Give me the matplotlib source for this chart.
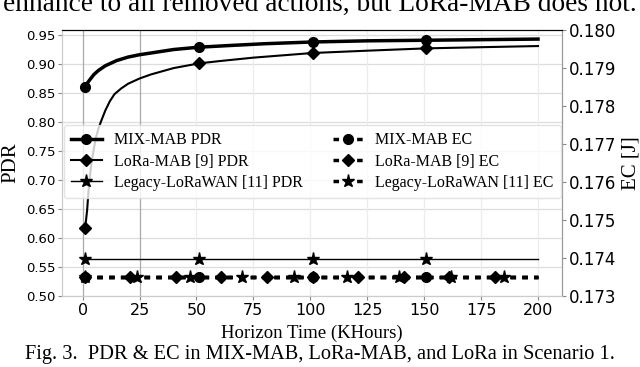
import matplotlib
matplotlib.use("Agg")
import matplotlib.pyplot as plt

# PDR curves, x in KHours
mix_pdr_x = [1, 3, 5, 7, 10, 15, 20, 25, 30, 40, 51, 65, 80, 101, 125, 151, 175, 200]
mix_pdr = [0.861, 0.872, 0.882, 0.889, 0.897, 0.906, 0.912, 0.916, 0.919, 0.925, 0.929,
           0.932, 0.935, 0.938, 0.940, 0.941, 0.942, 0.943]
mix_pdr_marks = [0, 10, 13, 15]

lora_pdr_x = [1, 1.5, 2, 2.5, 3, 4, 5, 6, 7, 8, 10, 12, 14, 17, 20, 25, 30, 40, 51, 60,
              75, 101, 125, 151, 175, 200]
lora_pdr = [0.617, 0.630, 0.648, 0.675, 0.700, 0.732, 0.755, 0.775, 0.789, 0.800, 0.820,
            0.836, 0.848, 0.858, 0.866, 0.875, 0.882, 0.893, 0.901, 0.905, 0.911, 0.919,
            0.923, 0.927, 0.929, 0.931]
lora_pdr_marks = [0, 18, 21, 23]

legacy_pdr_x = [1, 51, 101, 151, 200]
legacy_pdr = [0.563, 0.563, 0.563, 0.563, 0.563]

# EC (right axis)
mix_ec_x = [1, 51, 101, 151, 200]
mix_ec = [0.1735, 0.1735, 0.1735, 0.1735, 0.1735]
lora_ec_x = [1, 21, 41, 61, 81, 101, 121, 141, 161, 181, 200]
lora_ec = [0.1735, 0.1735, 0.1735, 0.1735, 0.1735, 0.1735, 0.1735, 0.1735, 0.1735, 0.1735, 0.1735]
legacy_ec_x = [1, 24, 47, 70, 93, 116, 139, 162, 185, 200]
legacy_ec = [0.1735, 0.1735, 0.1735, 0.1735, 0.1735, 0.1735, 0.1735, 0.1735, 0.1735, 0.1735]

x_ticks = [0, 25, 50, 75, 100, 125, 150, 175, 200]
pdr_ticks = [0.50, 0.55, 0.60, 0.65, 0.70, 0.75, 0.80, 0.85, 0.90, 0.95]
ec_ticks = [0.173, 0.174, 0.175, 0.176, 0.177, 0.178, 0.179, 0.180]

serif = "Liberation Serif"

fig = plt.figure(figsize=(6.4, 3.67), dpi=100)
ax = fig.add_axes([0.097, 0.1935, 0.781, 0.7245])
ax2 = ax.twinx()

ax.set_xlim(-9, 210.5)
ax.set_ylim(0.50, 0.9585)
ax2.set_ylim(0.173, 0.180)
ax.set_xticks(x_ticks)
ax.set_yticks(pdr_ticks)
ax2.set_yticks(ec_ticks)
ax.set_yticklabels([f"{v:.2f}" for v in pdr_ticks], fontsize=9.5)
ax2.set_yticklabels([f"{v:.3f}" for v in ec_ticks], fontsize=12)
ax.set_xticklabels([str(v) for v in x_ticks], fontsize=11.5)

# grid
for v in pdr_ticks:
    ax.axhline(v, color="#dddddd", lw=0.9, zorder=0)
for v in x_ticks[2:]:
    ax.axvline(v, color="#ececec", lw=0.9, zorder=0)
for v in x_ticks[:2]:
    ax.axvline(v, color="#aaaaaa", lw=0.9, zorder=0)

for a in (ax, ax2):
    a.spines["left"].set_color("#cccccc")
    a.spines["bottom"].set_color("#cccccc")
    a.spines["right"].set_color("#999999")
    a.spines["top"].set_color("black")
    a.tick_params(length=3, color="#888888", pad=2)

h1, = ax.plot(mix_pdr_x, mix_pdr, color="black", lw=2.5, marker="o", ms=7,
              markevery=mix_pdr_marks, label="MIX-MAB PDR", zorder=3)
h2, = ax.plot(lora_pdr_x, lora_pdr, color="black", lw=1.5, marker="D", ms=6,
              markevery=lora_pdr_marks, label="LoRa-MAB [9] PDR", zorder=3)
h3, = ax.plot(legacy_pdr_x, legacy_pdr, color="black", lw=1.0, marker="*", ms=9.5,
              markevery=[0, 1, 2, 3], label="Legacy-LoRaWAN [11] PDR", zorder=3)

dash = (1.6, 1.8)
h4, = ax2.plot(mix_ec_x, mix_ec, color="black", lw=2.5, dashes=dash, marker="o", ms=7,
               markevery=[0, 1, 2, 3], label="MIX-MAB EC")
h5, = ax2.plot(lora_ec_x, lora_ec, color="black", lw=2.5, dashes=dash, marker="D", ms=6,
               markevery=list(range(10)), label="LoRa-MAB [9] EC")
h6, = ax2.plot(legacy_ec_x, legacy_ec, color="black", lw=2.5, dashes=dash, marker="*", ms=9.5,
               markevery=list(range(9)), label="Legacy-LoRaWAN [11] EC")

leg = ax2.legend(handles=[h1, h2, h3, h4, h5, h6], ncol=2, loc="upper left",
                 bbox_to_anchor=(0.004, 0.642), borderaxespad=0,
                 prop={"family": serif, "size": 11.5},
                 frameon=True, framealpha=0.8, edgecolor="#dddddd", fancybox=True,
                 handlelength=1.9, handletextpad=0.75, columnspacing=1.9,
                 labelspacing=0.32, borderpad=0.45)

ax.set_ylabel("PDR", family=serif, fontsize=15, labelpad=4)
ax2.set_ylabel("EC [J]", family=serif, fontsize=15, labelpad=4)
ax.set_xlabel("Horizon Time (KHours)", family=serif, fontsize=13.5, labelpad=5)

fig.text(0.5, 1 - 11 / 367, "enhance to all removed actions, but LoRa-MAB does not.",
         ha="center", va="baseline", family=serif, fontsize=19.7)
fig.text(0.5, 1 - 359 / 367, "Fig. 3.  PDR & EC in MIX-MAB, LoRa-MAB, and LoRa in Scenario 1.",
         ha="center", va="baseline", family=serif, fontsize=14.7)

fig.savefig("out.png", dpi=100)
